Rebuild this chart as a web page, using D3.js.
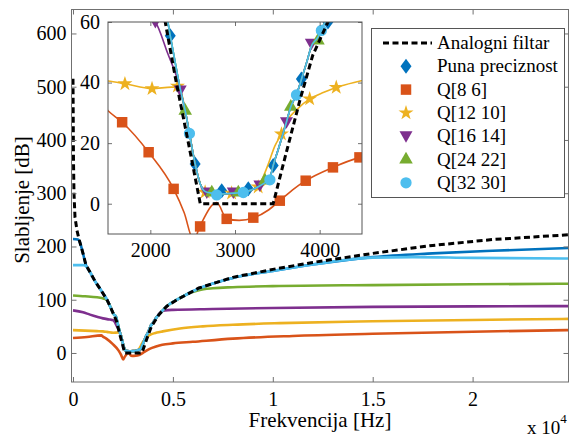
<!DOCTYPE html>
<html>
<head>
<meta charset="utf-8">
<script src="https://cdn.jsdelivr.net/npm/d3@7"></script>
<style>
  body { margin: 0; background: #fff; }
  svg { display: block; }
</style>
</head>
<body>
<div id="chart"></div>
<script>
// podaci (frekvencija u Hz, slabljenje u dB)
const analogni = [[0,515],[10,450],[25,360],[50,300],[100,255],[200,230],[300,214],[480,190],[650,165],[850,152],[1100,135],[1400,118],[1700,100],[1900,84],[2050,71],[2176,60],[2300,41],[2450,20],[2590,0],[3451,0],[3588,15],[3765,34],[3918,49],[4098,60],[4300,72],[4700,88],[5300,102],[6300,122],[8000,142],[10000,157],[12000,170],[15000,187],[18000,202],[21000,213],[24800,222]];

// zajednicki prijelazni pojas filtara s dovoljno bitova
const prijelaz = [[2150,68],[2235,55.5],[2353,38],[2412,30.7],[2462,23.2],[2529,13.1],[2590,6.5],[2650,4],[2726,3.5],[2800,3.2],[2900,3.3],[3000,3.5],[3100,3.8],[3200,4.6],[3300,6],[3380,7.5],[3412,8.5],[3451,12.6],[3500,17],[3550,21.5],[3608,27],[3659,32],[3726,36],[3784,41],[3850,47],[3902,52],[3980,55],[4020,57.5],[4098,62],[4200,68]];

const punaPreciznost = [[0,214],[250,213],[330,209],[480,190],[650,165],[850,152],[1100,135],[1400,118],[1700,100],[1900,84],[2050,72]]
  .concat(prijelaz)
  .concat([[4300,72],[4700,88],[5300,102],[6300,121],[8000,141],[10000,154],[12000,166],[15000,180],[18000,187],[21000,192],[24800,197]]);

const q8_6 = [[0,28],[700,30],[1420,33],[1500,30.7],[1667,26.9],[1980,17],[2275,4.9],[2400,-3],[2510,-12],[2588,-7.3],[2784,0.4],[2902,-5],[3050,-5.5],[3216,-4.7],[3400,-2],[3549,1.5],[3700,5],[3835,7.6],[4157,12],[4470,15.3],[5000,18],[6000,21],[8000,27],[11000,32],[15000,36],[20000,40],[24800,43]];

const q12_10 = [[0,43],[600,42],[1200,41],[1500,40.5],[1700,39.6],[2020,38],[2250,38.5],[2330,38.5],[2373,36],[2412,30.7],[2462,23.2],[2529,13.1],[2590,6.5],[2650,4],[2726,3.5],[2800,3.2],[2900,3.3],[3000,3.5],[3100,3.8],[3200,4.6],[3300,7],[3392,13],[3470,19],[3549,23],[3630,28],[3726,31],[3882,34.6],[4050,36.8],[4196,38.4],[4490,40.6],[5350,46],[6500,50],[8000,53],[10350,56],[15000,59.5],[20000,62],[24800,64]];

const q16_14 = [[0,80],[500,76.5],[850,72],[1200,68],[1500,65],[1800,63],[1950,62],[2059,60],[2200,50],[2353,38]]
  .concat(prijelaz.slice(3))
  .concat([[4300,73],[4450,78],[4600,80],[5000,81],[7000,82.5],[10000,84.5],[15000,86.5],[20000,87.5],[24800,88]]);

const q24_22 = [[0,108],[600,106.5],[1200,104.5],[1550,102],[1700,99],[1900,84],[2050,72]]
  .concat(prijelaz)
  .concat([[4300,72],[4700,88],[5300,102],[5800,112],[6300,118],[7000,121.5],[8000,123.5],[10000,125.5],[15000,127.5],[20000,129],[24800,130]]);

const q32_30 = [[0,165],[550,165],[650,163],[850,152],[1100,135],[1400,118],[1700,100],[1900,84],[2050,72]]
  .concat(prijelaz)
  .concat([[4300,72],[4700,88],[5300,102],[6300,121],[8000,141],[10000,154],[12000,166],[15000,179],[17000,180],[20000,178.5],[24800,177.5]]);

// markeri u umetku
const mPuna = [[2235,55.5],[2529,13.1],[2843,4.3],[3157,4.9],[3451,12.6],[3784,41.2],[4098,60]];
const mQ8 = [[1667,26.9],[1980,17],[2275,4.9],[2588,-7.5],[2902,-5],[3216,-4.6],[3529,1],[3835,7.6],[4157,12],[4470,15.3]];
const mQ12 = [[1700,39.6],[2020,38],[2320,38.8],[2647,3.8],[2960,3.5],[3274,5.5],[3549,23],[3882,34.6],[4196,38.4]];
const mQ16 = [[2059,60],[2353,37.4],[2667,3.7],[2980,3.7],[3294,6],[3608,26.9],[3902,52.8]];
const mQ24 = [[2412,30.7],[2726,3.7],[3039,3.7],[3353,7.6],[3659,32],[3980,53.9]];
const mQ32 = [[2462,23.2],[2784,2.9],[3098,3.7],[3412,7.9],[3726,35.9],[4020,57.2]];

const xTicks = [0, 5000, 10000, 15000, 20000];
const xTickLabels = ["0", "0.5", "1", "1.5", "2"];
const yTicks = [0, 100, 200, 300, 400, 500, 600];
const insetXTicks = [2000, 3000, 4000];
const insetYTicks = [0, 20, 40, 60];
const legendLabels = ["Analogni filtar", "Puna preciznost", "Q[8 6]", "Q[12 10]", "Q[16 14]", "Q[24 22]", "Q[32 30]"];

const colors = ["#000000", "#0072BD", "#D95319", "#EDB120", "#7E2F8E", "#77AC30", "#4DBEEE"];

const series = [
  { data: punaPreciznost, marks: mPuna, color: colors[1], sym: "diamond" },
  { data: q8_6, marks: mQ8, color: colors[2], sym: "square" },
  { data: q12_10, marks: mQ12, color: colors[3], sym: "star" },
  { data: q16_14, marks: mQ16, color: colors[4], sym: "down" },
  { data: q24_22, marks: mQ24, color: colors[5], sym: "up" },
  { data: q32_30, marks: mQ32, color: colors[6], sym: "circle" }
];

const W = 570, H = 437;
const svg = d3.select("#chart").append("svg").attr("width", W).attr("height", H);

const axisColor = "#707070";
const fontSize = 20;
const serif = '"Liberation Serif"';

// glavni graf
const x = d3.scaleLinear().domain([-75, 24800]).range([71.5, 568.5]);
const y = d3.scaleLinear().domain([-54.5, 645]).range([382, 9.5]);

svg.append("clipPath").attr("id", "clipMain").append("rect")
  .attr("x", 71.5).attr("y", 9.5).attr("width", 497).attr("height", 372.5);

const mainLine = d3.line().x(d => x(d[0])).y(d => y(d[1])).curve(d3.curveMonotoneX);
const gMain = svg.append("g").attr("clip-path", "url(#clipMain)");

series.forEach(s => {
  gMain.append("path").datum(s.data)
    .attr("fill", "none").attr("stroke", s.color).attr("stroke-width", 2.6)
    .attr("d", mainLine);
});
gMain.append("path").datum(analogni)
  .attr("fill", "none").attr("stroke", "#000").attr("stroke-width", 3)
  .attr("stroke-dasharray", "6,3.5")
  .attr("d", d3.line().x(d => x(d[0])).y(d => y(d[1])));

function styleAxis(g) {
  g.select(".domain").remove();
  g.selectAll("line").attr("stroke", axisColor);
  g.selectAll("text").attr("fill", "#000").attr("font-size", fontSize)
    .style("font-family", serif);
}

svg.append("g").attr("transform", "translate(0,382)")
  .call(d3.axisBottom(x).tickValues(xTicks).tickFormat((d, i) => xTickLabels[i]).tickSize(-5).tickPadding(10))
  .call(styleAxis);
svg.append("g").attr("transform", "translate(0,9.5)")
  .call(d3.axisTop(x).tickValues(xTicks).tickFormat("").tickSize(-5))
  .call(styleAxis);
svg.append("g").attr("transform", "translate(71.5,0)")
  .call(d3.axisLeft(y).tickValues(yTicks).tickSize(-5).tickPadding(5))
  .call(styleAxis);
svg.append("g").attr("transform", "translate(568.5,0)")
  .call(d3.axisRight(y).tickValues(yTicks).tickFormat("").tickSize(-5))
  .call(styleAxis);

svg.append("rect").attr("x", 71.5).attr("y", 9.5).attr("width", 497).attr("height", 372.5)
  .attr("fill", "none").attr("stroke", axisColor);

// oznake osi
svg.append("text").attr("x", 320).attr("y", 427).attr("text-anchor", "middle")
  .attr("font-size", 21).style("font-family", serif).text("Frekvencija [Hz]");
svg.append("text").attr("transform", "translate(29,200) rotate(-90)").attr("text-anchor", "middle")
  .attr("font-size", 21).style("font-family", serif).text("Slabljenje [dB]");
const exp = svg.append("text").attr("x", 527).attr("y", 434).attr("font-size", 19).style("font-family", serif);
exp.append("tspan").text("x 10");
exp.append("tspan").attr("dy", -11).attr("font-size", 13).text("4");

// umetak
const xi = d3.scaleLinear().domain([1500, 4500]).range([108, 362]);
const yi = d3.scaleLinear().domain([-10, 60]).range([234, 22]);

svg.append("rect").attr("x", 108).attr("y", 22).attr("width", 254).attr("height", 212)
  .attr("fill", "#fff");

svg.append("clipPath").attr("id", "clipInset").append("rect")
  .attr("x", 108).attr("y", 22).attr("width", 254).attr("height", 212);

const insetLine = d3.line().x(d => xi(d[0])).y(d => yi(d[1])).curve(d3.curveMonotoneX);
const gInset = svg.append("g").attr("clip-path", "url(#clipInset)");

function symbolPath(sym) {
  if (sym === "diamond") return "M0,-7.5L5.5,0L0,7.5L-5.5,0Z";
  if (sym === "square") return d3.symbol(d3.symbolSquare, 110)();
  if (sym === "star") return d3.symbol(d3.symbolStar, 70)();
  if (sym === "up") return d3.symbol(d3.symbolTriangle, 80)();
  if (sym === "down") return "M-6.5,-5L6.5,-5L0,6.5Z";
  return d3.symbol(d3.symbolCircle, 100)();
}

series.forEach(s => {
  gInset.append("path").datum(s.data)
    .attr("fill", "none").attr("stroke", s.color).attr("stroke-width", 1.6)
    .attr("d", insetLine);
  gInset.selectAll(null).data(s.marks).enter().append("path")
    .attr("transform", d => `translate(${xi(d[0])},${yi(d[1])})`)
    .attr("d", symbolPath(s.sym))
    .attr("fill", s.color);
});
gInset.append("path").datum(analogni)
  .attr("fill", "none").attr("stroke", "#000").attr("stroke-width", 3)
  .attr("stroke-dasharray", "6,3.5")
  .attr("d", d3.line().x(d => xi(d[0])).y(d => yi(d[1])));

svg.append("g").attr("transform", "translate(0,234)")
  .call(d3.axisBottom(xi).tickValues(insetXTicks).tickFormat(d3.format("d")).tickSize(-4).tickPadding(9))
  .call(styleAxis);
svg.append("g").attr("transform", "translate(0,22)")
  .call(d3.axisTop(xi).tickValues(insetXTicks).tickFormat("").tickSize(-4))
  .call(styleAxis);
svg.append("g").attr("transform", "translate(108,0)")
  .call(d3.axisLeft(yi).tickValues(insetYTicks).tickSize(-4).tickPadding(8))
  .call(styleAxis);
svg.append("g").attr("transform", "translate(362,0)")
  .call(d3.axisRight(yi).tickValues(insetYTicks).tickFormat("").tickSize(-4))
  .call(styleAxis);
svg.append("rect").attr("x", 108).attr("y", 22).attr("width", 254).attr("height", 212)
  .attr("fill", "none").attr("stroke", "#555");

// legenda
const legend = svg.append("g");
legend.append("rect").attr("x", 371.5).attr("y", 28.5).attr("width", 193).attr("height", 169)
  .attr("fill", "#fff").attr("stroke", "#555");

legendLabels.forEach((label, i) => {
  const ly = 43 + i * 23.3;
  if (i === 0) {
    legend.append("line").attr("x1", 383).attr("x2", 432).attr("y1", ly).attr("y2", ly)
      .attr("stroke", "#000").attr("stroke-width", 3).attr("stroke-dasharray", "6,3.5");
  } else {
    const s = series[i - 1];
    legend.append("path").attr("transform", `translate(406,${ly})`)
      .attr("d", symbolPath(s.sym)).attr("fill", s.color);
  }
  legend.append("text").attr("x", 437).attr("y", ly + 6).attr("font-size", 19)
    .style("font-family", serif).text(label);
});
</script>
</body>
</html>
